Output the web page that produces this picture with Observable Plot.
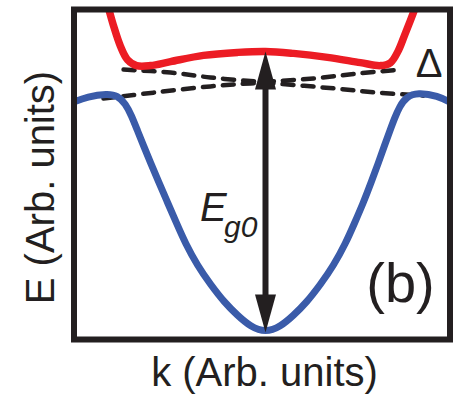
<!DOCTYPE html>
<html>
<head>
<meta charset="utf-8">
<script src="https://cdn.jsdelivr.net/npm/d3@7"></script>
<script src="https://cdn.jsdelivr.net/npm/@observablehq/plot@0.6"></script>
<style>
  html, body { margin: 0; padding: 0; background: #fff; }
  #chart { width: 455px; height: 398px; }
</style>
</head>
<body>
<div id="chart"></div>
<script>
// ---- Data (arbitrary units) ----
const valenceK = [-1.027, -0.947, -0.840, -0.787, -0.745, -0.713, -0.681, -0.649, -0.612, -0.569, -0.521, -0.473, -0.426, -0.362, -0.293, -0.218, -0.149, -0.080, 0.0,
                  0.080, 0.149, 0.218, 0.293, 0.362, 0.426, 0.473, 0.521, 0.564, 0.601, 0.633, 0.660, 0.686, 0.713, 0.750, 0.809, 0.915, 0.995];
const valenceE = [0.718, 0.736, 0.745, 0.739, 0.715, 0.679, 0.633, 0.588, 0.536, 0.479, 0.415, 0.352, 0.291, 0.224, 0.167, 0.112, 0.073, 0.039, 0.021,
                  0.039, 0.073, 0.112, 0.167, 0.224, 0.291, 0.352, 0.415, 0.479, 0.536, 0.588, 0.630, 0.670, 0.706, 0.736, 0.748, 0.739, 0.715];

const conductionK = [-0.840, -0.809, -0.771, -0.734, -0.686, -0.612, -0.505, -0.330, -0.149, 0.0, 0.149, 0.330, 0.505, 0.612, 0.665, 0.707, 0.739, 0.771, 0.803];
const conductionE = [1.015, 0.952, 0.888, 0.848, 0.830, 0.830, 0.842, 0.861, 0.870, 0.873, 0.867, 0.855, 0.839, 0.830, 0.839, 0.876, 0.921, 0.967, 1.015];

const upperDashK = [-0.755, -0.505, -0.293, -0.080, 0.0, 0.255, 0.489, 0.718];
const upperDashE = [0.818, 0.809, 0.794, 0.783, 0.782, 0.791, 0.806, 0.818];

const lowerDashK = [-0.862, -0.596, -0.293, -0.080, 0.0, 0.362, 0.596, 0.840];
const lowerDashE = [0.730, 0.748, 0.767, 0.776, 0.777, 0.761, 0.748, 0.739];

const gapK = 0.0;
const gapTopE = 0.873;
const gapBottomE = 0.021;

const xLabel = "k (Arb. units)";
const yLabel = "E (Arb. units)";
const gapLabelMain = "E";
const gapLabelSub = "g0";
const panelLabel = "(b)";
const deltaLabel = "Δ";

// ---- Build tables ----
const zip = (ks, es) => ks.map((k, i) => ({k, E: es[i]}));
const valence = zip(valenceK, valenceE);
const conduction = zip(conductionK, conductionE);
const upperDash = zip(upperDashK, upperDashE);
const lowerDash = zip(lowerDashK, lowerDashE);
const gap = [{k: gapK, E1: gapTopE, E2: gapBottomE}];

const ink = "#231f20";
const font = "'Liberation Sans', Arial, Helvetica, sans-serif";

// arrow head: elongated filled triangle, tip at the anchor point, pointing up
const headSymbol = {
  draw(ctx) {
    ctx.moveTo(0, 0);
    ctx.lineTo(-10.5, 38);
    ctx.lineTo(10.5, 38);
    ctx.closePath();
  }
};

const chart = Plot.plot({
  width: 455,
  height: 398,
  marginLeft: 73.5,
  marginRight: 5.5,
  marginTop: 9,
  marginBottom: 59,
  style: {background: "#fff", fontFamily: font},
  x: {domain: [-1.0186, 0.9814], axis: null},
  y: {domain: [0, 1], axis: null},
  marks: [
    Plot.line(upperDash, {x: "k", y: "E", stroke: ink, strokeWidth: 4.5, strokeDasharray: "11,9", curve: "catmull-rom"}),
    Plot.line(lowerDash, {x: "k", y: "E", stroke: ink, strokeWidth: 4.5, strokeDasharray: "11,9", curve: "catmull-rom"}),
    Plot.line(valence, {x: "k", y: "E", stroke: "#3a5ba9", strokeWidth: 7, curve: "basis", clip: true}),
    Plot.line(conduction, {x: "k", y: "E", stroke: "#ec1c24", strokeWidth: 7.5, curve: "catmull-rom", clip: true}),
    Plot.arrow(gap, {x1: "k", y1: "E1", x2: "k", y2: "E2", stroke: ink, strokeWidth: 6, headLength: 0, insetStart: 20, insetEnd: 20}),
    Plot.dot(gap, {x: "k", y: "E1", symbol: headSymbol, r: 5, fill: ink, stroke: null}),
    Plot.dot(gap, {x: "k", y: "E2", symbol: headSymbol, r: 5, fill: ink, stroke: null, rotate: 180}),
    Plot.frame({stroke: ink, strokeWidth: 6}),
    // E_g0 label
    Plot.text([gapLabelMain], {frameAnchor: "top-left", dx: 126, dy: 211, textAnchor: "start", lineAnchor: "bottom", fontSize: 40, fontStyle: "italic", fill: ink}),
    Plot.text([gapLabelSub], {frameAnchor: "top-left", dx: 150, dy: 227, textAnchor: "start", lineAnchor: "bottom", fontSize: 30, fontStyle: "italic", fill: ink}),
    // panel label and Delta
    Plot.text([panelLabel], {frameAnchor: "bottom-right", dx: -49.5, dy: -38, textAnchor: "middle", lineAnchor: "bottom", fontSize: 56, fill: ink}),
    Plot.text([deltaLabel], {frameAnchor: "top-right", dx: -21, dy: 67, textAnchor: "middle", lineAnchor: "bottom", fontSize: 40, fill: ink}),
    // axis labels
    Plot.text([xLabel], {frameAnchor: "bottom", dx: 2.5, dy: 46, textAnchor: "middle", lineAnchor: "bottom", fontSize: 40, fill: ink}),
    Plot.text([yLabel], {frameAnchor: "left", dx: -20.5, dy: 13, rotate: -90, textAnchor: "middle", lineAnchor: "bottom", fontSize: 40, fill: ink})
  ]
});
document.getElementById("chart").appendChild(chart);
</script>
</body>
</html>
